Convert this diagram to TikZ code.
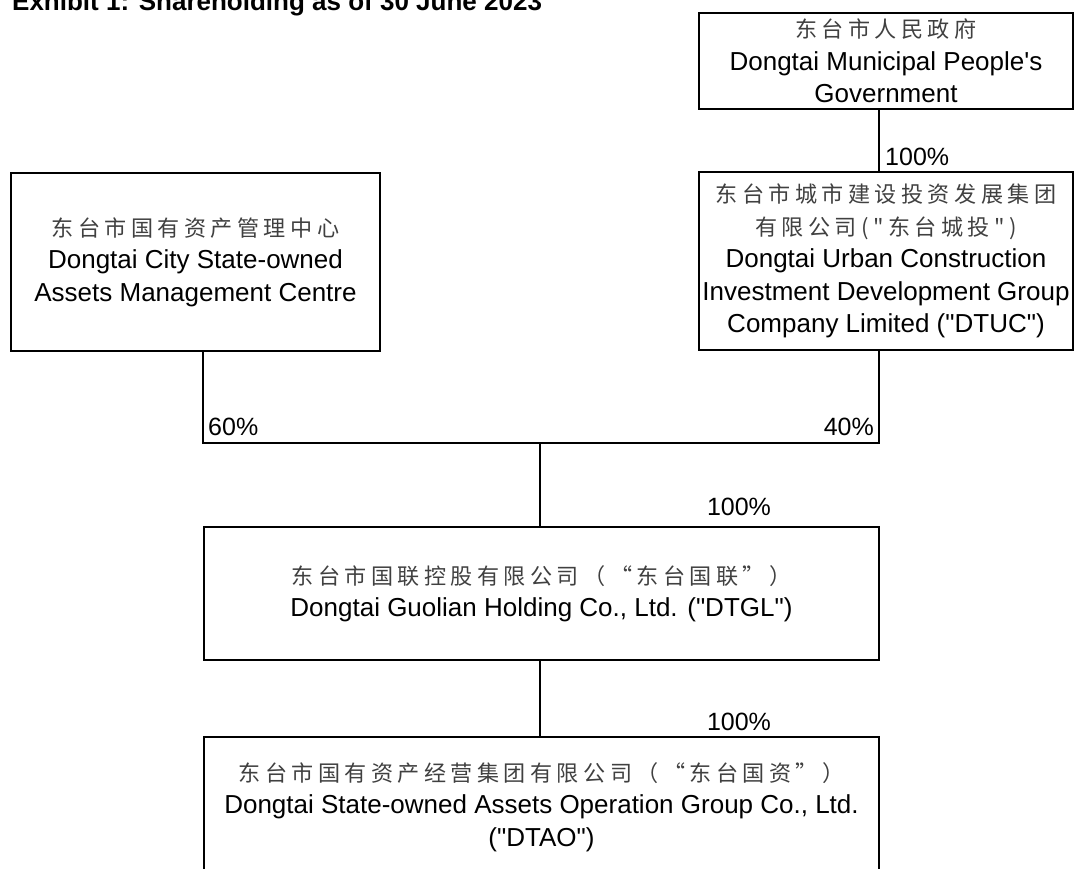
\documentclass[tikz,border=0pt]{standalone}
\usepackage{fontspec}
\setmainfont{Liberation Sans}[Ligatures=TeXOff]
\newfontfamily\cjk[LetterSpace=20,Scale=0.85,Ligatures=TeXOff]{Noto Sans CJK SC}
\newcommand{\zh}[1]{{\cjk\color{black!75}#1}}

\begin{document}
\begin{tikzpicture}[x=1pt,y=-1pt,
	box/.style={draw,line width=2pt,align=center,inner sep=0pt,
		font=\fontsize{26}{32.5}\selectfont},
	link/.style={line width=2pt},
	pct/.style={inner sep=0pt,font=\fontsize{25}{30}\selectfont}]

	\useasboundingbox (0,0) rectangle (1076,868);

	\node[anchor=base west,inner sep=0pt,font=\bfseries\fontsize{26}{30}\selectfont] (title) at (12,10)
		{Exhibit 1: Shareholding as of 30 June 2023};

	% shareholders
	\node[box,minimum width=374pt,minimum height=96pt] (gov) at (886,61)
		{\zh{东台市人民政府}\\Dongtai Municipal People's\\Government};
	\node[box,minimum width=369pt,minimum height=178pt] (sam) at (195.5,262)
		{\zh{东台市国有资产管理中心}\\Dongtai City State-owned\\Assets Management Centre};
	\node[box,minimum width=374pt,minimum height=178pt] (dtuc) at (886,261)
		{\zh{东台市城市建设投资发展集团}\\\zh{有限公司("东台城投")}\\Dongtai Urban Construction\\Investment Development Group\\Company Limited ("DTUC")};

	% group companies
	\node[box,minimum width=675pt,minimum height=133pt] (dtgl) at (541.5,593.5)
		{\zh{东台市国联控股有限公司（“东台国联”）}\\Dongtai Guolian Holding Co., Ltd. ("DTGL")};
	\node[box,minimum width=675pt,minimum height=140pt] (dtao) at (541.5,807)
		{\zh{东台市国有资产经营集团有限公司（“东台国资”）}\\Dongtai State-owned Assets Operation Group Co., Ltd.\\("DTAO")};

	\coordinate (spine) at (879,0);
	\coordinate (split) at (540,443);

	\draw[link] (gov.south -| spine) -- (dtuc.north -| spine);
	\draw[link] (sam.south -| dtgl.west) |- (split) -| (dtuc.south -| spine);
	\draw[link] (split) -- (split |- dtgl.north);
	\draw[link] (dtgl.south -| split) -- (dtao.north -| split);

	\node[pct,anchor=base west] (govpct) at (885,165) {100\%};
	\node[pct,anchor=base west] (sampct) at (208,435) {60\%};
	\node[pct,anchor=base east] (dtucpct) at (874,435) {40\%};
	\node[pct,anchor=base] (dtglpct) at (739,515) {100\%};
	\node[pct,anchor=base] (dtaopct) at (739,730) {100\%};

\end{tikzpicture}
\end{document}
